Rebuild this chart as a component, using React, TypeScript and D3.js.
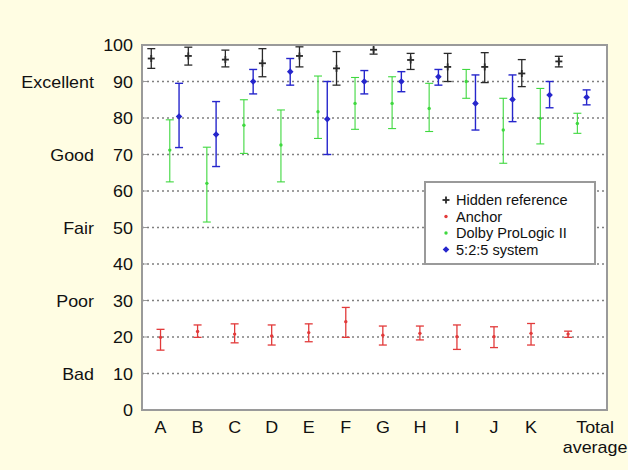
import React from "react";
import * as d3 from "d3";

const categories = ["A", "B", "C", "D", "E", "F", "G", "H", "I", "J", "K", "Total average"];

const hiddenMean = [96.3, 97, 96, 95, 97, 93.6, 98.7, 95.9, 94, 94, 92.2, 95.5];
const hiddenLow = [93.6, 94.5, 94, 91.3, 94, 89, 97.5, 93.3, 90, 89.7, 88.6, 94];
const hiddenHigh = [99, 99.4, 98.6, 99, 99.5, 98.2, 100, 97.7, 97.7, 97.9, 96, 96.9];

const anchorMean = [19.9, 21.5, 20.8, 20.3, 21.2, 24.2, 20.5, 21, 20.1, 20.1, 21, 20.8];
const anchorLow = [16.4, 19.9, 18.4, 17.8, 18.7, 19.9, 17.8, 19.2, 16.6, 17.1, 17.8, 19.9];
const anchorHigh = [22.1, 23.3, 23.6, 23.3, 23.6, 28.1, 23, 23, 23.3, 22.8, 23.7, 21.6];

const dolbyMean = [71.2, 62.1, 78, 72.6, 81.7, 84, 84, 82.6, 90, 76.7, 79.9, 78.5];
const dolbyLow = [62.5, 51.5, 70.3, 62.5, 74.4, 76.9, 77.1, 76.3, 85.4, 67.6, 72.9, 75.8];
const dolbyHigh = [79.5, 72, 85, 82.2, 91.5, 91.1, 91.3, 89.5, 93.3, 85.4, 88.1, 81.3];

const sysMean = [80.4, 75.5, 90, 92.7, 79.7, 90, 90, 91.3, 84, 85.1, 86.3, 85.7];
const sysLow = [71.9, 66.7, 86.6, 89, 70, 86.6, 87.2, 89, 76.7, 79, 82.8, 83.6];
const sysHigh = [89.5, 84.5, 93.3, 96.3, 90, 93, 92.7, 93.3, 91.8, 91.8, 90, 87.7];

const yTicks = [0, 10, 20, 30, 40, 50, 60, 70, 80, 90, 100];
const qualityLabels = ["Bad", "Poor", "Fair", "Good", "Excellent"];
const qualityValues = [10, 30, 50, 70, 90];

const legendLabels = ["Hidden reference", "Anchor", "Dolby ProLogic II", "5:2:5 system"];

const W = 628, H = 470;
const left = 142, right = 607, top = 45, bottom = 410;
const FONT = "'Liberation Sans', Arial, sans-serif";

const x = d3.scaleLinear().domain([0.5, 13.05]).range([left, right]);
const y = d3.scaleLinear().domain([0, 100]).range([bottom, top]);

const series = [
  { name: legendLabels[0], mean: hiddenMean, lo: hiddenLow, hi: hiddenHigh, off: -0.25, color: "#2a2a2a", w: 1.3, marker: "plus" },
  { name: legendLabels[1], mean: anchorMean, lo: anchorLow, hi: anchorHigh, off: 0, color: "#e23a3a", w: 1.3, marker: "dot" },
  { name: legendLabels[2], mean: dolbyMean, lo: dolbyLow, hi: dolbyHigh, off: 0.25, color: "#3fd83f", w: 1.1, marker: "dot" },
  { name: legendLabels[3], mean: sysMean, lo: sysLow, hi: sysHigh, off: 0.5, color: "#2626cc", w: 1.4, marker: "diamond" },
];

function Marker({ kind, cx, cy, color }: { kind: string; cx: number; cy: number; color: string }) {
  if (kind === "plus") {
    return (
      <g stroke={color} strokeWidth={1.8}>
        <line x1={cx - 3.5} x2={cx + 3.5} y1={cy} y2={cy} />
        <line x1={cx} x2={cx} y1={cy - 3.5} y2={cy + 3.5} />
      </g>
    );
  }
  if (kind === "diamond") {
    return <path d={`M${cx},${cy - 3.3}L${cx + 3.3},${cy}L${cx},${cy + 3.3}L${cx - 3.3},${cy}Z`} fill={color} stroke="none" />;
  }
  return <circle cx={cx} cy={cy} r={1.7} fill={color} stroke="none" />;
}

function Label({ x0, y0, text, anchor, size = 16, sx = 1.12 }: { x0: number; y0: number; text: string; anchor: string; size?: number; sx?: number }) {
  return (
    <text transform={`translate(${x0},${y0}) scale(${sx},1)`} textAnchor={anchor} fontSize={size} fontFamily={FONT} fill="#111">
      {text}
    </text>
  );
}

export default function App() {
  const cap = 4;
  return (
    <svg width={W} height={H} style={{ position: "absolute", left: 0, top: 0 }}>
      <rect width={W} height={H} fill="#fffde3" />
      <rect x={left} y={top} width={right - left} height={bottom - top} fill="#ffffff" />

      {yTicks.slice(1, -1).map((t) => (
        <line key={t} x1={left} x2={right} y1={y(t)} y2={y(t)} stroke="#808080" strokeWidth={1.6} strokeDasharray="2 3" />
      ))}
      {yTicks.map((t) => (
        <line key={"tk" + t} x1={left} x2={left + 5} y1={y(t)} y2={y(t)} stroke="#999" strokeWidth={1} />
      ))}

      {series.map((s) => (
        <g key={s.name}>
          {categories.map((c, i) => {
            const cx = x(i + 1 + s.off);
            return (
              <g key={c} stroke={s.color} strokeWidth={s.w}>
                <line x1={cx} x2={cx} y1={y(s.lo[i])} y2={y(s.hi[i])} />
                <line x1={cx - cap} x2={cx + cap} y1={y(s.lo[i])} y2={y(s.lo[i])} />
                <line x1={cx - cap} x2={cx + cap} y1={y(s.hi[i])} y2={y(s.hi[i])} />
                <Marker kind={s.marker} cx={cx} cy={y(s.mean[i])} color={s.color} />
              </g>
            );
          })}
        </g>
      ))}

      <rect x={left} y={top} width={right - left} height={bottom - top} fill="none" stroke="#9a9a9a" strokeWidth={2} />

      {yTicks.map((t) => (
        <Label key={"yl" + t} x0={133} y0={y(t) + 6} text={String(t)} anchor="end" />
      ))}
      {qualityLabels.map((q, i) => (
        <Label key={q} x0={94} y0={y(qualityValues[i]) + 6} text={q} anchor="end" />
      ))}

      {categories.slice(0, -1).map((c, i) => (
        <Label key={"xl" + c} x0={x(i + 1)} y0={433} text={c} anchor="middle" />
      ))}
      <Label x0={x(12) + 27} y0={433} text="Total" anchor="middle" />
      <Label x0={x(12) + 27} y0={453} text="average" anchor="middle" />

      <g>
        <rect x={425} y={182} width={170} height={82} fill="#ffffff" stroke="#9a9a9a" strokeWidth={2} />
        {series.map((s, i) => (
          <g key={"lg" + s.name}>
            <Marker kind={s.marker} cx={446} cy={200 + i * 16.5} color={s.color} />
            <Label x0={456} y0={205 + i * 16.5} text={s.name} anchor="start" size={15} sx={0.97} />
          </g>
        ))}
      </g>
    </svg>
  );
}
